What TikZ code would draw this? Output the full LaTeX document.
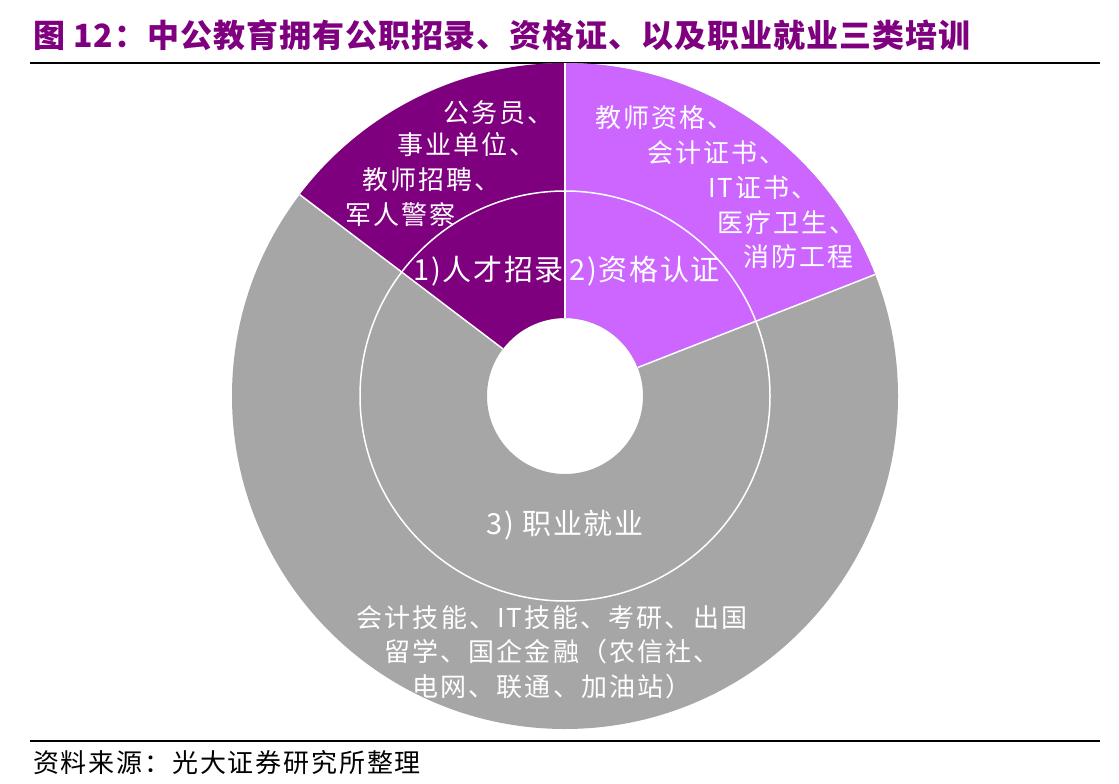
\documentclass[tikz,border=0pt]{standalone}
\usepackage{fontspec}
\setmainfont{Noto Sans CJK SC}
\usepackage{tikz}
\definecolor{zgPurple}{HTML}{7F007F}
\definecolor{zgLilac}{HTML}{CC66FF}
\definecolor{zgGrey}{HTML}{A6A6A6}
\tikzset{
  ringlbl/.style={text=white, inner sep=0pt, font=\fontsize{26}{34}\selectfont\addfontfeature{LetterSpace=8}},
  catlbl/.style={text=white, inner sep=0pt, font=\fontsize{29}{34}\selectfont\addfontfeature{LetterSpace=6}},
  rulebar/.style={line width=2pt, black}
}

\begin{document}
\begin{tikzpicture}[x=1pt, y=-1pt]
            \useasboundingbox (0,0) rectangle (1119,784);
            % title and rules
            \node[anchor=west, inner sep=0pt, text=zgPurple, font=\fontsize{32}{34}\selectfont\bfseries\addfontfeature{LetterSpace=3}] (title) at (33,35) {图 12：中公教育拥有公职招录、资格证、以及职业就业三类培训};
            \draw[rulebar] (30,63) -- (1100,63);
            \draw[rulebar] (30,741) -- (1100,741);
            \node[anchor=west, inner sep=0pt, font=\fontsize{26}{30}\selectfont\addfontfeature{LetterSpace=7}] (source) at (33,763) {资料来源：光大证券研究所整理};
            % donut
            \begin{scope}[shift={(565,396)}, y=1pt]
                \fill[zgGrey, even odd rule] (0,0) circle[radius=333] (0,0) circle[radius=78];
                \fill[zgPurple] (90:78) -- (90:333) arc[start angle=90, end angle=142.8, radius=333] -- (142.8:78) arc[start angle=142.8, end angle=90, radius=78] -- cycle;
                \fill[zgLilac] (21.4:78) -- (21.4:333) arc[start angle=21.4, end angle=90, radius=333] -- (90:78) arc[start angle=90, end angle=21.4, radius=78] -- cycle;
                \foreach \ang in {90,142.8,21.4}{
                    \draw[white, line width=1.5pt] (\ang:78) -- (\ang:333);
                }
                \draw[white, line width=1.5pt] (0,0) circle[radius=205];
            \end{scope}
            % labels
            \foreach \px/\py/\lbl/\nm in {443/113/公务员、/civil, 397/145/事业单位、/inst, 362/180/教师招聘、/teach, 345/215/军人警察/army,
                595/118/教师资格、/tcert, 647/153/会计证书、/acct, 708/188/IT证书、/itcert, 717/223/医疗卫生、/med, 743/257/消防工程/fire}{
                \node[ringlbl, anchor=west] (\nm) at (\px,\py) {\lbl};
            }
            \node[catlbl, anchor=west] (recruit) at (413,271) {1)人才招录};
            \node[catlbl, anchor=west] (qualify) at (569,271) {2)资格认证};
            \node[catlbl] (career) at (565,525) {3) 职业就业};
            \node[ringlbl, align=center, font=\fontsize{26}{34.5}\selectfont\addfontfeature{LetterSpace=8}] (jobs) at (552,652) {会计技能、IT技能、考研、出国\\留学、国企金融（农信社、\\电网、联通、加油站）};
        \end{tikzpicture}
\end{document}
